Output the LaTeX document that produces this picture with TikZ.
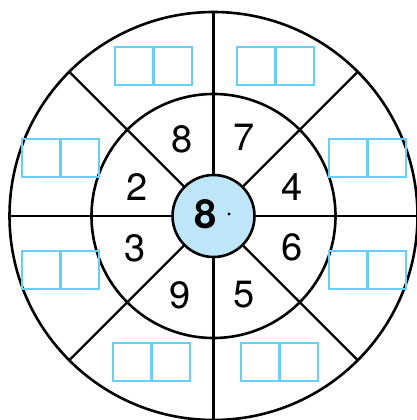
\documentclass[tikz,border=0pt]{standalone}
\usepackage{fontspec}
\setmainfont{TeX Gyre Heros}
\usetikzlibrary{calc}
\definecolor{boxblue}{RGB}{105,205,245}
\definecolor{fillblue}{RGB}{190,230,248}
\begin{document}
\begin{tikzpicture}[x=1pt,y=-1pt,
  ring/.style={draw=black,line width=2.6pt},
  spoke/.style={draw=black,line width=2.4pt},
  cell/.style={draw=boxblue,line width=2.8pt},
  digit/.style={font=\fontsize{38}{38}\selectfont,inner sep=0pt}]
\useasboundingbox (0,0) rectangle (417,420);
\coordinate (c) at (213.5,216);
% spokes
\draw[spoke] (213.5,12) -- (213.5,420);
\draw[spoke] (9.5,216) -- (417.5,216);
\foreach \a in {45,135,225,315}
  \draw[spoke] ($(c)+(\a:41)$) -- ($(c)+(\a:204)$);
% circles
\draw[ring] (c) circle[radius=204];
\draw[ring] (c) circle[radius=122];
\filldraw[ring,fill=fillblue] (c) circle[radius=41];
% boxes
\foreach \x/\y in {115/47,237/47,22/139,329/139,22/251,329/251,113/343,241/343}{
  \draw[cell] (\x,\y) rectangle ++(77,38);
  \draw[cell] (\x+38.5,\y) -- ++(0,38);
}
% numbers
\node[digit] (n8) at (182,139) {8};
\node[digit] (n7) at (244,137) {7};
\node[digit] (n2) at (137,187) {2};
\node[digit] (n4) at (292,187) {4};
\node[digit] (n3) at (135,248) {3};
\node[digit] (n6) at (292,247) {6};
\node[digit] (n9) at (180,295) {9};
\node[digit] (n5) at (244,295) {5};
\node[digit,font=\fontsize{40}{40}\selectfont\bfseries] (center) at (206,214) {8};
\fill (229,214) circle[radius=1.7];
\end{tikzpicture}
\end{document}
